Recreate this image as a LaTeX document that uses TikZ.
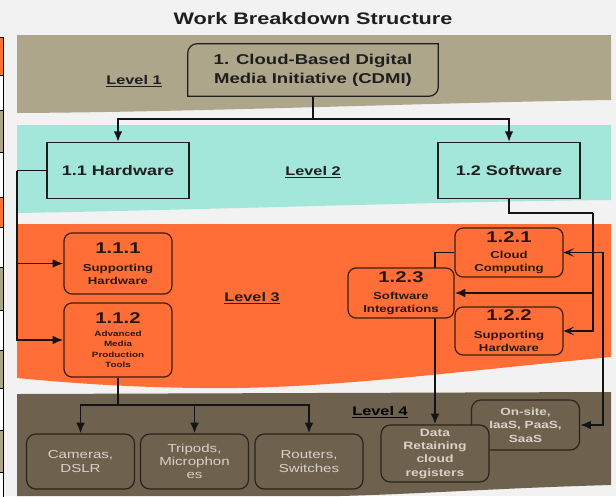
\documentclass[tikz,border=0pt]{standalone}
\usepackage{fontspec}
\setmainfont{Liberation Sans}[FakeStretch=1.3]
\usetikzlibrary{arrows.meta}
\pgfdeclarelayer{bands}
\pgfdeclarelayer{wires}
\pgfsetlayers{bands,wires,main}

\tikzstyle{wire}=[line width=1.4pt, draw=wirecol]
\tikzstyle{fillhead}=[-{Latex[length=8pt,width=6.5pt]}]
\tikzstyle{barbhead}=[-{Stealth[length=8pt,width=6.5pt,inset=4pt]}]
\tikzstyle{levellabel}=[font=\bfseries\fontsize{9.4}{11}\selectfont, text=inkdark]
\tikzstyle{tealbox}=[draw=inkdark, line width=0.8pt, fill=tealband, inner sep=0pt,
  minimum width=106.5pt, minimum height=42pt, text=inkdark,
  font=\bfseries\fontsize{10.4}{12}\selectfont]
\tikzstyle{orangebox}=[draw=orangeedge, line width=0.9pt, rounded corners=6pt,
  fill=orangeband, inner sep=0pt, align=center, text=orangeink, minimum width=81pt,
  font=\bfseries\fontsize{7.6}{9.75}\selectfont]
\tikzstyle{brownbox}=[draw=brownedge, line width=0.9pt, rounded corners=7pt,
  fill=brownband, inner sep=0pt, align=center, text=browntext, minimum width=81pt,
  font=\fontsize{8.7}{10}\selectfont]

\newcommand{\wbsnum}[1]{{\fontsize{11.7}{13}\selectfont #1}}

\begin{document}
\begin{tikzpicture}[x=0.75pt,y=-0.75pt]

\definecolor{bggrey}{HTML}{F2F2F2}
\definecolor{tanband}{HTML}{AEA68A}
\definecolor{tealband}{HTML}{A3E7DA}
\definecolor{orangeband}{HTML}{FF6E37}
\definecolor{brownband}{HTML}{6E614E}
\definecolor{wirecol}{HTML}{141414}
\definecolor{inkdark}{HTML}{1E1E1E}
\definecolor{orangeedge}{HTML}{3C1E0C}
\definecolor{orangeink}{HTML}{2A170C}
\definecolor{brownedge}{HTML}{2A241B}
\definecolor{browntext}{HTML}{D8D2C6}
%%
\useasboundingbox (0,0) rectangle (616,496);

\begin{pgfonlayer}{bands}
\fill[bggrey] (0,0) rectangle (616,496);
\fill[tanband] (17,35) -- (611,35) -- (611,100)
  .. controls (420,103) and (200,112) .. (17,113) -- cycle;
\fill[tealband] (17,125) -- (611,125) -- (611,200)
  .. controls (420,202) and (200,210) .. (17,213) -- cycle;
\fill[orangeband] (17,224) -- (611,224) -- (611,357)
  .. controls (450,372) and (320,390) .. (200,388)
  .. controls (110,387) and (50,381) .. (17,378) -- cycle;
\fill[brownband] (17,394) -- (611,392) -- (611,485)
  .. controls (500,488) and (420,494) .. (340,496) -- (17,496) -- cycle;
%% cut-off table at the left edge
\foreach \ya/\yb/\cc in {37/75/orangeband, 75/110/white, 110/152/tanband,
    152/197/white, 197/227/orangeband, 227/267/white, 267/310/tanband,
    310/350/white, 350/388/tanband, 388/430/white, 430/472/tanband, 472/497/white}
  \draw[fill=\cc, line width=0.5pt] (-2,\ya) rectangle (3,\yb);
\end{pgfonlayer}

\node[font=\bfseries\fontsize{12.5}{15}\selectfont, text=inkdark] (title) at (313,19)
  {Work Breakdown Structure};

%% level 1
\node[inner sep=0pt, minimum width=187.5pt, minimum height=39pt, align=center,
  text=inkdark, font=\bfseries\fontsize{10.7}{14.25}\selectfont] (cdmi) at (313,70)
  {1. Cloud-Based Digital\\Media Initiative (CDMI)};
\draw[line width=0.9pt, draw=inkdark] (cdmi.north east) -- ([yshift=7pt]cdmi.south east)
  arc (0:-90:7pt) -- (cdmi.south west) -- ([yshift=-7pt]cdmi.north west)
  arc (180:90:7pt) -- cycle;
\node[levellabel] (lvla) at (134,81) {\underline{Level 1}};

%% level 2
\node[tealbox] (hw) at (118,170.5) {1.1 Hardware};
\node[tealbox] (sw) at (509,170.5) {1.2 Software};
\node[levellabel] (lvlb) at (313,172) {\underline{Level 2}};

%% level 3
\node[orangebox, minimum height=45.75pt] (n111) at (118,263.5)
  {\wbsnum{1.1.1}\\[3.75pt]Supporting\\Hardware};
\node[orangebox, minimum height=55.5pt, font=\bfseries\fontsize{5.7}{7.7}\selectfont]
  (n112) at (118,340) {\wbsnum{1.1.2}\\[2pt]Advanced\\Media\\Production\\Tools};
\node[levellabel] (lvlc) at (252,298) {\underline{Level 3}};
\node[orangebox, minimum height=36.75pt] (n121) at (509,252.5)
  {\wbsnum{1.2.1}\\[2.25pt]Cloud\\Computing};
\node[orangebox, minimum width=79.5pt, minimum height=37.5pt] (n123) at (401,293)
  {\wbsnum{1.2.3}\\[3pt]Software\\Integrations};
\node[orangebox, minimum height=36pt] (n122) at (509,331)
  {\wbsnum{1.2.2}\\[3.75pt]Supporting\\Hardware};

%% level 4
\node[levellabel, text=black] (lvld) at (380,412) {\underline{Level 4}};
\node[brownbox, minimum height=41.25pt] (cam) at (80.5,461.5) {Cameras,\\DSLR};
\node[brownbox, minimum height=41.25pt] (tri) at (194.5,461.5) {Tripods,\\Microphon\\es};
\node[brownbox, minimum height=41.25pt] (rout) at (309,461.5) {Routers,\\Switches};
\node[brownbox, minimum height=37.5pt, font=\bfseries\fontsize{7.8}{10}\selectfont]
  (onsite) at (525.5,425) {On-site,\\IaaS, PaaS,\\SaaS};
\node[brownbox, minimum height=42.75pt, font=\bfseries\fontsize{8}{10}\selectfont]
  (data) at (435,453.5) {Data\\Retaining\\cloud\\registers};

\begin{pgfonlayer}{wires}
\coordinate (fork1) at (313,119);
\draw[wire] (cdmi.south) -- (fork1);
\draw[wire,fillhead] (fork1) -| (hw.north);
\draw[wire,fillhead] (fork1) -| (sw.north);
%% hardware rail
\coordinate (hwrail) at (17,170.5);
\draw[wire] (hw.west) -- (hwrail);
\draw[wire,fillhead] (hwrail) |- (n111.west);
\draw[wire,fillhead] (hwrail) |- (n112.west);
%% software rail
\coordinate (swturn) at (509,213);
\coordinate (swrail) at (593,213);
\coordinate (swmid) at (593,293);
\draw[wire] (sw.south) -- (swturn) -- (swrail);
\draw[wire,barbhead] (swrail) |- (n122.east);
\draw[wire,fillhead] (swmid) -- (n123.east);
\coordinate (outrail) at (603,252.5);
\draw[wire,{Stealth[length=8pt,width=6.5pt,inset=4pt]}-{Latex[length=8pt,width=6.5pt]}]
  (n121.east) -- (outrail) |- (onsite.east);
\draw[wire,fillhead] (n121.west) -| (data.north);
%% level 4 fork
\coordinate (fork4) at (118,405);
\draw[wire] (n112.south) -- (fork4);
\foreach \leaf in {cam,tri,rout}
  \draw[wire,fillhead] (fork4) -| (\leaf.north);
\end{pgfonlayer}

\end{tikzpicture}
\end{document}
